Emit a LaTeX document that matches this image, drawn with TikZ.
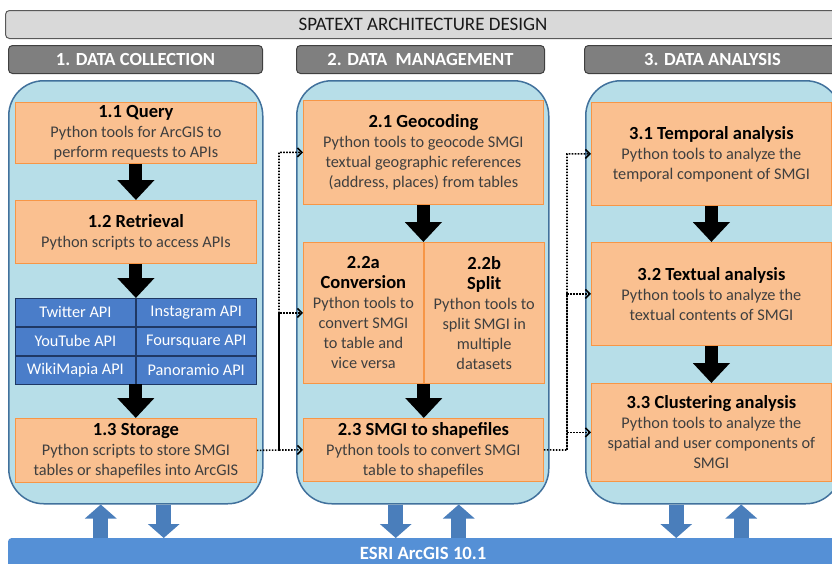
\documentclass[tikz,border=0pt]{standalone}
\usepackage{fontspec}
\setmainfont{Carlito}
\usetikzlibrary{positioning,arrows.meta}

\definecolor{barfill}{HTML}{D9D9D9}
\definecolor{headfill}{HTML}{7F7F7F}
\definecolor{panelfill}{HTML}{B7DEE8}
\definecolor{panelline}{HTML}{41719C}
\definecolor{boxfill}{HTML}{FAC090}
\definecolor{boxline}{HTML}{F79646}
\definecolor{apifill}{HTML}{4A7DC9}
\definecolor{apiline}{HTML}{1F3864}
\definecolor{esrifill}{HTML}{5590D6}
\definecolor{esriarrow}{HTML}{4A7EBB}
\definecolor{bodytext}{HTML}{3F3F3F}

\newcommand\boxhead[1]{{\fontsize{18.5}{21}\selectfont\bfseries\color{black}#1}}

\begin{document}
\begin{tikzpicture}[x=1pt, y=-1pt, every node/.style={font=\fontsize{16.3}{20}\selectfont},
  topbar/.style={draw=black!65, fill=barfill, line width=1pt, rounded corners=4pt, anchor=north west, minimum height=28, inner sep=0pt, text=black!90, font=\fontsize{19}{20}\selectfont},
  colhead/.style={draw=black!75, fill=headfill, line width=1pt, rounded corners=4pt, anchor=north west, minimum height=28, inner sep=0pt, text=white, font=\fontsize{18.5}{20}\selectfont\bfseries},
  panel/.style={draw=panelline, fill=panelfill, line width=1.5pt, rounded corners=35pt, anchor=north west, minimum height=423, inner sep=0pt},
  stepbox/.style={draw=boxline, fill=boxfill, line width=0.8pt, anchor=north west, align=center, text=bodytext, inner sep=2pt},
  api/.style={draw=apiline, fill=apifill, line width=0.8pt, minimum width=120, minimum height=28, inner sep=0pt, text=white},
  blk/.style={line width=13pt, -{Triangle[width=36pt,length=20pt]}},
  bluarr/.style={esriarrow, line width=15pt, -{Triangle[width=31pt,length=14pt]}},
  dotarr/.style={dash pattern=on 1.6pt off 1.4pt, line width=1.6pt, -{Straight Barb[length=4.5pt,width=9pt,line width=1.6pt]}}]
\useasboundingbox (0,0) rectangle (832,563);

% frame
\node[topbar, minimum width=835] (title) at (5,10) {SPATEXT ARCHITECTURE DESIGN};
\node[colhead, minimum width=254] (h1) at (8,45) {1. DATA COLLECTION};
\node[colhead, minimum width=248] (h2) at (296,45) {2. DATA~~MANAGEMENT};
\node[colhead, minimum width=256] (h3) at (584,45) {3. DATA ANALYSIS};
\node[panel, minimum width=254] (p1) at (8,80) {};
\node[panel, minimum width=252] (p2) at (296,80) {};
\node[panel, minimum width=255] (p3) at (585,80) {};
\node[anchor=north west, fill=esrifill, rounded corners=3pt, minimum width=830, minimum height=30, inner sep=0pt, text=white, font=\fontsize{18.7}{20}\selectfont\bfseries] (esri) at (8,538) {ESRI ArcGIS 10.1};

% 1. data collection
\node[stepbox, minimum width=241, minimum height=61] (query) at (15,102) {\boxhead{1.1 Query}\\ Python tools for ArcGIS to\\ perform requests to APIs};
\node[stepbox, minimum width=241, minimum height=63] (retr) at (15,200) {\boxhead{1.2 Retrieval}\\ Python scripts to access APIs};
\node[api, anchor=north west] (tw) at (15,298) {Twitter API};
\node[api, right=0pt of tw] (ig) {Instagram API};
\node[api, below=0pt of tw] (yt) {YouTube API};
\node[api, right=0pt of yt] (fs) {Foursquare API};
\node[api, below=0pt of yt] (wm) {WikiMapia API};
\node[api, right=0pt of wm] (pa) {Panoramio API};
\node[stepbox, minimum width=241, minimum height=64] (store) at (15,418) {\boxhead{1.3 Storage}\\ Python scripts to store SMGI\\ tables or shapefiles into ArcGIS};

% 2. data management
\node[stepbox, minimum width=240, minimum height=104] (geo) at (303,100) {\boxhead{2.1 Geocoding}\\ Python tools to geocode SMGI\\ textual geographic references\\ (address, places) from tables};
\node[stepbox, minimum width=120, minimum height=141] (conv) at (303,242) {\boxhead{2.2a}\\ \boxhead{Conversion}\\ Python tools to\\ convert SMGI\\ to table and\\ vice versa};
\node[stepbox, minimum width=120, minimum height=141, anchor=west, right=0pt of conv] (split) {\boxhead{2.2b}\\ \boxhead{Split}\\ Python tools to\\ split SMGI in\\ multiple\\ datasets};
\node[stepbox, minimum width=240, minimum height=63] (shp) at (303,418) {\boxhead{2.3 SMGI to shapefiles}\\ Python tools to convert SMGI\\ table to shapefiles};

% 3. data analysis
\node[stepbox, minimum width=240, minimum height=103] (temp) at (591,102) {\boxhead{3.1 Temporal analysis}\\ Python tools to analyze the\\ temporal component of SMGI};
\node[stepbox, minimum width=240, minimum height=103] (txt) at (591,242) {\boxhead{3.2 Textual analysis}\\ Python tools to analyze the\\ textual contents of SMGI};
\node[stepbox, minimum width=240, minimum height=98] (clus) at (591,383) {\boxhead{3.3 Clustering analysis}\\ Python tools to analyze the\\ spatial and user components of\\ SMGI};

% flow inside columns
\draw[blk] (query) -- (retr);
\draw[blk] (retr.south) -- (retr.south |- tw.north);
\draw[blk] (wm.south east) -- (wm.south east |- store.north);
\draw[blk] (geo) -- (geo.south |- conv.north);
\draw[blk] (conv.south east) -- (conv.south east |- shp.north);
\draw[blk] (temp) -- (txt);
\draw[blk] (txt) -- (clus);

% links between columns
\coordinate (d1) at (279,450);
\coordinate (d2) at (567,450);
\draw[dotarr] (store.east) -- (d1) |- (geo.west);
\draw[dotarr] (d1) |- (conv.west);
\draw[dotarr] (d1) -- (shp.west);
\draw[dotarr] (shp.east) -- (d2) |- (temp.west);
\draw[dotarr] (d2) |- (txt.west);
\draw[dotarr] (d2) |- (clus.west);

% exchange with arcgis
\draw[bluarr] ([xshift=-35pt]p1.south |- esri.north) -- ([xshift=-35pt]p1.south);
\draw[bluarr] ([xshift=28pt]p1.south) -- ([xshift=28pt]p1.south |- esri.north);
\draw[bluarr] ([xshift=-27pt]p2.south) -- ([xshift=-27pt]p2.south |- esri.north);
\draw[bluarr] ([xshift=36pt]p2.south |- esri.north) -- ([xshift=36pt]p2.south);
\draw[bluarr] ([xshift=-37pt]p3.south) -- ([xshift=-37pt]p3.south |- esri.north);
\draw[bluarr] ([xshift=28pt]p3.south |- esri.north) -- ([xshift=28pt]p3.south);
\end{tikzpicture}
\end{document}
